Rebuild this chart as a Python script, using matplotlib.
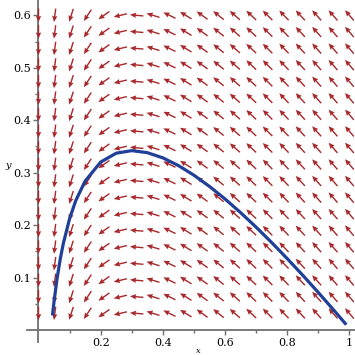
import numpy as np
import matplotlib.pyplot as plt

# grid of arrow positions (S on x, I on y)
grid_x = [0.0, 0.0526, 0.1053, 0.1579, 0.2105, 0.2632, 0.3158, 0.3684, 0.4211, 0.4737,
          0.5263, 0.5789, 0.6316, 0.6842, 0.7368, 0.7895, 0.8421, 0.8947, 0.9474, 1.0]
grid_y = [0.0316, 0.0632, 0.0947, 0.1263, 0.1579, 0.1895, 0.2211, 0.2526, 0.2842, 0.3158,
          0.3474, 0.3789, 0.4105, 0.4421, 0.4737, 0.5053, 0.5368, 0.5684, 0.6]

# direction of the field in each column (data units, same for every row)
dir_x = [0.0, -0.053, -0.105, -0.158, -0.211, -0.263, -0.316, -0.368, -0.421, -0.474,
         -0.526, -0.579, -0.632, -0.684, -0.737, -0.789, -0.842, -0.895, -0.947, -1.0]
dir_y = [-0.3, -0.247, -0.195, -0.142, -0.089, -0.037, 0.016, 0.068, 0.121, 0.174,
         0.226, 0.279, 0.332, 0.384, 0.437, 0.489, 0.542, 0.595, 0.647, 0.7]

# solution curve
curve_x = [0.99, 0.95, 0.9, 0.85, 0.8, 0.75, 0.7, 0.65, 0.6, 0.55, 0.5, 0.45, 0.4, 0.35,
           0.3, 0.25, 0.2, 0.15, 0.12, 0.1, 0.08, 0.07, 0.06, 0.05, 0.045]
curve_y = [0.01, 0.0376, 0.0714, 0.1043, 0.136, 0.1667, 0.196, 0.2238, 0.2498, 0.2737,
           0.2951, 0.3135, 0.3282, 0.3381, 0.342, 0.3371, 0.3202, 0.2839, 0.2469, 0.2122,
           0.1652, 0.1352, 0.0989, 0.0543, 0.0277]

x_ticks = [0.2, 0.4, 0.6, 0.8, 1.0]
x_labels = ['0.2', '0.4', '0.6', '0.8', '1']
y_ticks = [0.1, 0.2, 0.3, 0.4, 0.5, 0.6]
y_labels = ['0.1', '0.2', '0.3', '0.4', '0.5', '0.6']

ARROW_COLOR = '#a8282b'
CURVE_COLOR = '#1f3f99'
AXIS_COLOR = '#707070'
XLIM = (-0.037, 1.018)
YLIM = (-0.023, 0.629)
ARROW_PX = 13.5

fig = plt.figure(figsize=(3.55, 3.55), dpi=100)
ax = fig.add_axes([0.076, 0.0366, 0.924, 0.963])
ax.set_xlim(*XLIM)
ax.set_ylim(*YLIM)

# pixels per data unit, so arrows all get the same length on screen
ax_w = 0.924 * 355
ax_h = 0.963 * 355
sx = ax_w / (XLIM[1] - XLIM[0])
sy = ax_h / (YLIM[1] - YLIM[0])

X, Y = np.meshgrid(grid_x, grid_y)
U = np.tile(np.array(dir_x) * sx, (len(grid_y), 1))
V = np.tile(np.array(dir_y) * sy, (len(grid_y), 1))
L = np.hypot(U, V)
U = U / L
V = V / L

ax.quiver(X, Y, U, V, color=ARROW_COLOR, angles='uv', pivot='middle',
          units='dots', scale_units='dots', scale=1.0 / ARROW_PX,
          width=1.4, headwidth=3.8, headlength=4.4, headaxislength=4.0, zorder=3)

ax.plot(curve_x, curve_y, color=CURVE_COLOR, linewidth=2.3, solid_capstyle='butt', zorder=4)

# axes crossing at the origin
for side in ['top', 'right']:
    ax.spines[side].set_visible(False)
ax.spines['left'].set_position(('data', 0))
ax.spines['bottom'].set_position(('data', 0))
for side in ['left', 'bottom']:
    ax.spines[side].set_color(AXIS_COLOR)
    ax.spines[side].set_linewidth(1.3)
    ax.spines[side].set_zorder(2)

ax.set_xticks(x_ticks)
ax.set_xticklabels(x_labels, family='DejaVu Serif', fontsize=8)
ax.set_yticks(y_ticks)
ax.set_yticklabels(y_labels, family='DejaVu Serif', fontsize=8)
ax.set_xticks([0.1, 0.3, 0.5, 0.7, 0.9], minor=True)
ax.set_yticks([0.05, 0.15, 0.25, 0.35, 0.45, 0.55], minor=True)
ax.tick_params(which='major', direction='out', length=3.5, width=1, color=AXIS_COLOR, pad=2)
ax.tick_params(which='minor', direction='out', length=2, width=1, color=AXIS_COLOR)

fig.text(0.015, 1 - 165 / 355, 'y', family='DejaVu Serif', style='italic', fontsize=7,
         ha='left', va='center')
fig.text(198 / 355, 0.001, 'x', family='DejaVu Serif', style='italic', fontsize=6,
         ha='center', va='bottom')

fig.savefig('out.png', dpi=100)
